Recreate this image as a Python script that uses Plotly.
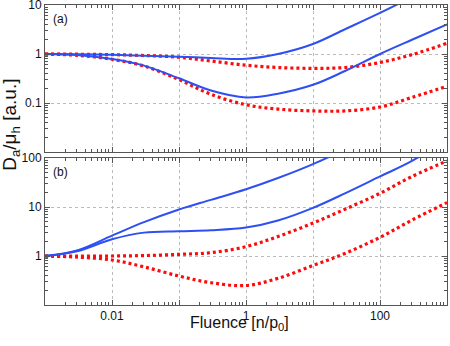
import plotly.graph_objects as go
from plotly.subplots import make_subplots

# (a) upper panel
a_blue1_x = [0.001, 0.003, 0.01, 0.03, 0.1, 0.3, 1, 3, 10, 30, 100, 300]
a_blue1_y = [1.0, 0.99, 0.96, 0.92, 0.88, 0.83, 0.80, 1.0, 1.6, 3.2, 6.9, 14.5]
a_red1_x = [0.001, 0.003, 0.01, 0.03, 0.1, 0.3, 1, 3, 10, 30, 100, 300, 1000]
a_red1_y = [1.0, 0.99, 0.97, 0.93, 0.86, 0.72, 0.59, 0.53, 0.51, 0.53, 0.67, 0.97, 1.65]
a_blue2_x = [0.001, 0.003, 0.01, 0.03, 0.1, 0.3, 1, 3, 10, 30, 100, 300, 1000]
a_blue2_y = [1.0, 0.95, 0.79, 0.58, 0.32, 0.18, 0.13, 0.155, 0.235, 0.45, 1.0, 1.95, 4.0]
a_red2_x = [0.001, 0.003, 0.01, 0.03, 0.1, 0.3, 1, 3, 10, 30, 100, 300, 1000]
a_red2_y = [1.0, 0.94, 0.78, 0.57, 0.30, 0.15, 0.092, 0.075, 0.069, 0.069, 0.083, 0.13, 0.22]

# (b) lower panel
b_blue1_x = [0.001, 0.003, 0.01, 0.03, 0.1, 0.3, 1, 3, 10, 30]
b_blue1_y = [1.0, 1.3, 2.6, 4.9, 8.9, 14, 23, 39, 75, 150]
b_blue2_x = [0.001, 0.003, 0.01, 0.03, 0.1, 0.3, 1, 3, 10, 30, 100, 300, 1000]
b_blue2_y = [1.0, 1.25, 2.2, 3.0, 3.2, 3.35, 3.8, 5.3, 9.6, 19, 42, 87, 250]
b_red1_x = [0.001, 0.003, 0.01, 0.03, 0.1, 0.3, 1, 3, 10, 30, 100, 300, 1000]
b_red1_y = [1.0, 0.99, 1.0, 1.02, 1.08, 1.17, 1.55, 2.5, 4.7, 9, 19, 42, 87]
b_red2_x = [0.001, 0.003, 0.01, 0.03, 0.1, 0.3, 1, 3, 10, 30, 100, 300, 1000]
b_red2_y = [1.0, 0.95, 0.83, 0.6, 0.39, 0.285, 0.25, 0.35, 0.64, 1.13, 2.4, 5.4, 12.3]

x_ticks = [0.001, 0.01, 0.1, 1, 10, 100, 1000]
x_labels = ["", "0.01", "", "1", "", "100", ""]
a_ticks = [0.01, 0.1, 1, 10]
a_labels = ["", "0.1", "1", "10"]
b_ticks = [0.1, 1, 10, 100]
b_labels = ["", "1", "10", "100"]

blue = "#2e4ff2"
red = "#ff0a0a"

fig = make_subplots(rows=2, cols=1, shared_xaxes=True, vertical_spacing=0.02)

def curve(x, y, color, dotted, row):
    if dotted:
        line = dict(color=color, width=3.2, dash="3px,3px", shape="spline", smoothing=1.0)
    else:
        line = dict(color=color, width=2, shape="spline", smoothing=1.0)
    fig.add_trace(go.Scatter(x=x, y=y, mode="lines", line=line, showlegend=False), row=row, col=1)

curve(a_red1_x, a_red1_y, red, True, 1)
curve(a_red2_x, a_red2_y, red, True, 1)
curve(a_blue1_x, a_blue1_y, blue, False, 1)
curve(a_blue2_x, a_blue2_y, blue, False, 1)
curve(b_red1_x, b_red1_y, red, True, 2)
curve(b_red2_x, b_red2_y, red, True, 2)
curve(b_blue1_x, b_blue1_y, blue, False, 2)
curve(b_blue2_x, b_blue2_y, blue, False, 2)

minor_x = [m * 10 ** e for e in range(-3, 3) for m in range(2, 10)]
minor_a = [m * 10 ** e for e in range(-2, 1) for m in range(2, 10)]
minor_b = [m * 10 ** e for e in range(-1, 2) for m in range(2, 10)]

common = dict(
    showline=True, linecolor="#555", linewidth=1, mirror="allticks",
    ticks="inside", ticklen=5, tickcolor="#555",
    showgrid=True, gridcolor="#bbb", griddash="3px,3px", gridwidth=1,
    zeroline=False, automargin=False, ticklabeloverflow="allow",
    tickfont=dict(size=12, color="#111"),
)

fig.update_xaxes(type="log", range=[-3, 3], tickmode="array", tickvals=x_ticks, ticktext=x_labels,
                 minor=dict(tickmode="array", tickvals=minor_x, ticks="inside", ticklen=3, tickcolor="#555"),
                 **common)
fig.update_xaxes(showticklabels=False, row=1, col=1)
fig.update_xaxes(showticklabels=True, row=2, col=1)

fig.update_yaxes(type="log", range=[-2, 1], tickmode="array", tickvals=a_ticks, ticktext=a_labels,
                 domain=[0.51, 1.0],
                 minor=dict(tickmode="array", tickvals=minor_a, ticks="inside", ticklen=3, tickcolor="#555"),
                 row=1, col=1, **common)
fig.update_yaxes(type="log", range=[-1, 2], tickmode="array", tickvals=b_ticks, ticktext=b_labels,
                 domain=[0.0, 0.49],
                 minor=dict(tickmode="array", tickvals=minor_b, ticks="inside", ticklen=3, tickcolor="#555"),
                 row=2, col=1, **common)

fig.add_annotation(text="(a)", x=0.015, y=0.985, xref="paper", yref="paper", xanchor="left", yanchor="top",
                   showarrow=False, font=dict(size=12, color="#111"))
fig.add_annotation(text="(b)", x=0.015, y=0.475, xref="paper", yref="paper", xanchor="left", yanchor="top",
                   showarrow=False, font=dict(size=12, color="#111"))
fig.add_annotation(text="D<sub>a</sub>/μ<sub>h</sub> [a.u.]", x=-0.085, y=0.6, xref="paper", yref="paper",
                   xanchor="center", yanchor="middle",
                   textangle=-90, showarrow=False, font=dict(size=19, color="#111"))
fig.add_annotation(text="Fluence [n/p<sub>0</sub>]", x=0.485, y=-0.062, xref="paper", yref="paper",
                   xanchor="center", yanchor="middle",
                   showarrow=False, font=dict(size=16, color="#111"))

fig.update_layout(
    width=450, height=346,
    margin=dict(l=45, r=3, t=5, b=41),
    paper_bgcolor="white", plot_bgcolor="white",
    font=dict(family="Liberation Sans, Arial, sans-serif"),
)

fig.write_html("out.html", config={"displayModeBar": False},
               post_script="document.body.style.margin='0px';")
